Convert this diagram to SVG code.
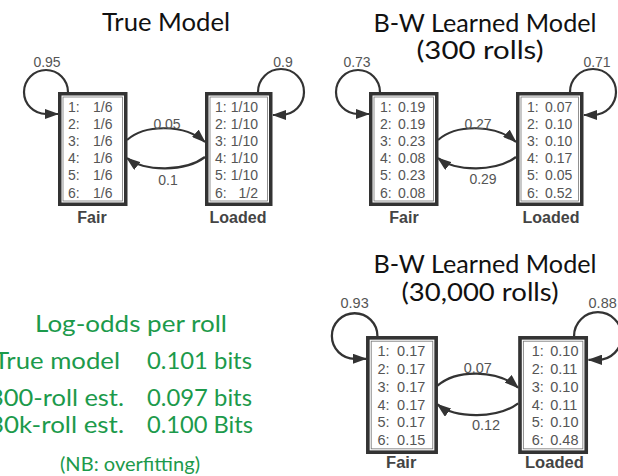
<svg xmlns="http://www.w3.org/2000/svg" width="618" height="476" viewBox="0 0 618 476">
  <defs>
    <style>
      .num { font-family: "Liberation Sans", Arial, sans-serif; font-size: 14px; fill: #555; }
      .mid { text-anchor: middle; }
      .end { text-anchor: end; }
      .lbl { font-family: "Liberation Sans", Arial, sans-serif; font-size: 16px; font-weight: bold; fill: #444; text-anchor: middle; }
      .ttl { font-family: Lato, "Open Sans", sans-serif; font-size: 25px; fill: #111; text-anchor: middle; }
      .grn { font-family: Lato, "Open Sans", sans-serif; fill: #1c9a4b; font-size: 24px; }
      .outer { fill: #fff; stroke: #333; stroke-width: 3.5; }
      .inner { fill: none; stroke: #777; stroke-width: 0.8; }
      .edge { fill: none; stroke: #333; stroke-width: 2.2; marker-end: url(#arrow); }
    </style>
    <marker id="arrow" markerUnits="userSpaceOnUse" markerWidth="14" markerHeight="10" refX="13" refY="5" orient="auto">
      <path d="M0,0 L14,5 L0,10 z" fill="#333"/>
    </marker>
    <!-- shared box frames, in the local coordinates of one model -->
    <g id="frameFair">
      <rect class="outer" x="59.75" y="93.75" width="66" height="110.5"/>
      <rect class="inner" x="63" y="97" width="59.5" height="104"/>
    </g>
    <g id="frameLoaded">
      <rect class="outer" x="206.75" y="93.75" width="64" height="110.5"/>
      <rect class="inner" x="210" y="97" width="57.5" height="104"/>
    </g>
  </defs>

  <rect width="618" height="476" fill="#fff"/>

  <!-- titles -->
  <text class="ttl" x="166" y="31" textLength="128" lengthAdjust="spacingAndGlyphs">True Model</text>
  <text class="ttl" x="485" y="32" textLength="223" lengthAdjust="spacingAndGlyphs">B-W Learned Model</text>
  <text class="ttl" x="480" y="59" textLength="127" lengthAdjust="spacingAndGlyphs">(300 rolls)</text>
  <text class="ttl" x="485" y="273" textLength="223" lengthAdjust="spacingAndGlyphs">B-W Learned Model</text>
  <text class="ttl" x="480" y="301" textLength="157" lengthAdjust="spacingAndGlyphs">(30,000 rolls)</text>

  <!-- ===== true model ===== -->
  <g id="trueModel">
    <g id="connectors-true">
      <path class="edge" d="M68,92 A22,22 0 1,0 46,114 L58,114"/>
      <path class="edge" d="M258,92 A23,23 0 1,1 281,115 L273,115"/>
      <path class="edge" d="M127,140 C145,124 185,124 205,142"/>
      <path class="edge" d="M205,157 C185,172 145,172 127,158"/>
      <text class="num mid" x="47" y="67">0.95</text>
      <text class="num mid" x="283" y="67">0.9</text>
      <text class="num mid" x="167" y="129">0.05</text>
      <text class="num mid" x="168" y="185">0.1</text>
    </g>
    <g id="true-fair">
      <use href="#frameFair"/>
      <text class="num" x="68" y="111.5">1:</text><text class="num" x="93" y="111.5">1/6</text>
      <text class="num" x="68" y="128.7">2:</text><text class="num" x="93" y="128.7">1/6</text>
      <text class="num" x="68" y="145.9">3:</text><text class="num" x="93" y="145.9">1/6</text>
      <text class="num" x="68" y="163.1">4:</text><text class="num" x="93" y="163.1">1/6</text>
      <text class="num" x="68" y="180.3">5:</text><text class="num" x="93" y="180.3">1/6</text>
      <text class="num" x="68" y="197.5">6:</text><text class="num" x="93" y="197.5">1/6</text>
      <text class="lbl" x="92" y="223">Fair</text>
    </g>
    <g id="true-loaded">
      <use href="#frameLoaded"/>
      <text class="num" x="215" y="111.5">1:</text><text class="num end" x="258" y="111.5">1/10</text>
      <text class="num" x="215" y="128.7">2:</text><text class="num end" x="258" y="128.7">1/10</text>
      <text class="num" x="215" y="145.9">3:</text><text class="num end" x="258" y="145.9">1/10</text>
      <text class="num" x="215" y="163.1">4:</text><text class="num end" x="258" y="163.1">1/10</text>
      <text class="num" x="215" y="180.3">5:</text><text class="num end" x="258" y="180.3">1/10</text>
      <text class="num" x="215" y="197.5">6:</text><text class="num end" x="258" y="197.5">1/2</text>
      <text class="lbl" x="238" y="223">Loaded</text>
    </g>
  </g>

  <!-- ===== learned from 300 rolls ===== -->
  <g id="model300" transform="translate(311,0)">
    <g id="connectors-300">
      <path class="edge" d="M69,92 A22,22 0 1,0 47,114 L58,114"/>
      <path class="edge" d="M259,92 A23,23 0 1,1 282,115 L273,115"/>
      <path class="edge" d="M127,140 C145,124 185,124 205,142"/>
      <path class="edge" d="M205,157 C185,172 145,172 127,158"/>
      <text class="num mid" x="46" y="67">0.73</text>
      <text class="num mid" x="286" y="67">0.71</text>
      <text class="num mid" x="167" y="129">0.27</text>
      <text class="num mid" x="172" y="184">0.29</text>
    </g>
    <g id="s300-fair">
      <use href="#frameFair"/>
      <text class="num" x="69" y="111.5">1:</text><text class="num" x="87" y="111.5">0.19</text>
      <text class="num" x="69" y="128.7">2:</text><text class="num" x="87" y="128.7">0.19</text>
      <text class="num" x="69" y="145.9">3:</text><text class="num" x="87" y="145.9">0.23</text>
      <text class="num" x="69" y="163.1">4:</text><text class="num" x="87" y="163.1">0.08</text>
      <text class="num" x="69" y="180.3">5:</text><text class="num" x="87" y="180.3">0.23</text>
      <text class="num" x="69" y="197.5">6:</text><text class="num" x="87" y="197.5">0.08</text>
      <text class="lbl" x="93" y="223">Fair</text>
    </g>
    <g id="s300-loaded">
      <use href="#frameLoaded"/>
      <text class="num" x="216" y="111.5">1:</text><text class="num" x="234" y="111.5">0.07</text>
      <text class="num" x="216" y="128.7">2:</text><text class="num" x="234" y="128.7">0.10</text>
      <text class="num" x="216" y="145.9">3:</text><text class="num" x="234" y="145.9">0.10</text>
      <text class="num" x="216" y="163.1">4:</text><text class="num" x="234" y="163.1">0.17</text>
      <text class="num" x="216" y="180.3">5:</text><text class="num" x="234" y="180.3">0.05</text>
      <text class="num" x="216" y="197.5">6:</text><text class="num" x="234" y="197.5">0.52</text>
      <text class="lbl" x="240" y="223">Loaded</text>
    </g>
  </g>

  <!-- ===== learned from 30,000 rolls ===== -->
  <g id="model30k" transform="translate(306,240.8) scale(1.035)">
    <g id="connectors-30k">
      <path class="edge" d="M69,92 A22,22 0 1,0 47,114 L58,114"/>
      <path class="edge" d="M259,92 A23,23 0 1,1 282,115 L273,115"/>
      <path class="edge" d="M127,140 C145,124 185,124 205,142"/>
      <path class="edge" d="M205,157 C185,172 145,172 127,158"/>
      <text class="num mid" x="47" y="65">0.93</text>
      <text class="num" x="273" y="65">0.88</text>
      <text class="num mid" x="166" y="128">0.07</text>
      <text class="num mid" x="174" y="183">0.12</text>
    </g>
    <g id="s30k-fair">
      <use href="#frameFair"/>
      <text class="num" x="69" y="111.5">1:</text><text class="num" x="88" y="111.5">0.17</text>
      <text class="num" x="69" y="128.7">2:</text><text class="num" x="88" y="128.7">0.17</text>
      <text class="num" x="69" y="145.9">3:</text><text class="num" x="88" y="145.9">0.17</text>
      <text class="num" x="69" y="163.1">4:</text><text class="num" x="88" y="163.1">0.17</text>
      <text class="num" x="69" y="180.3">5:</text><text class="num" x="88" y="180.3">0.17</text>
      <text class="num" x="69" y="197.5">6:</text><text class="num" x="88" y="197.5">0.15</text>
      <text class="lbl" x="92" y="220">Fair</text>
    </g>
    <g id="s30k-loaded">
      <use href="#frameLoaded"/>
      <text class="num" x="218" y="111.5">1:</text><text class="num" x="236" y="111.5">0.10</text>
      <text class="num" x="218" y="128.7">2:</text><text class="num" x="236" y="128.7">0.11</text>
      <text class="num" x="218" y="145.9">3:</text><text class="num" x="236" y="145.9">0.10</text>
      <text class="num" x="218" y="163.1">4:</text><text class="num" x="236" y="163.1">0.11</text>
      <text class="num" x="218" y="180.3">5:</text><text class="num" x="236" y="180.3">0.10</text>
      <text class="num" x="218" y="197.5">6:</text><text class="num" x="236" y="197.5">0.48</text>
      <text class="lbl" x="240" y="220">Loaded</text>
    </g>
  </g>

  <!-- log-odds summary -->
  <g id="summary" class="grn">
    <text x="35" y="332" textLength="192" lengthAdjust="spacingAndGlyphs">Log-odds per roll</text>
    <text x="120" y="369" text-anchor="end" textLength="126" lengthAdjust="spacingAndGlyphs">True model</text>
    <text x="147" y="369" textLength="105" lengthAdjust="spacingAndGlyphs">0.101 bits</text>
    <text x="124" y="406" text-anchor="end" textLength="135" lengthAdjust="spacingAndGlyphs">300-roll est.</text>
    <text x="147" y="406" textLength="105" lengthAdjust="spacingAndGlyphs">0.097 bits</text>
    <text x="124" y="433" text-anchor="end" textLength="135" lengthAdjust="spacingAndGlyphs">30k-roll est.</text>
    <text x="147" y="433" textLength="106" lengthAdjust="spacingAndGlyphs">0.100 Bits</text>
    <text x="60" y="471" font-size="19" textLength="140" lengthAdjust="spacingAndGlyphs">(NB: overfitting)</text>
  </g>
</svg>
